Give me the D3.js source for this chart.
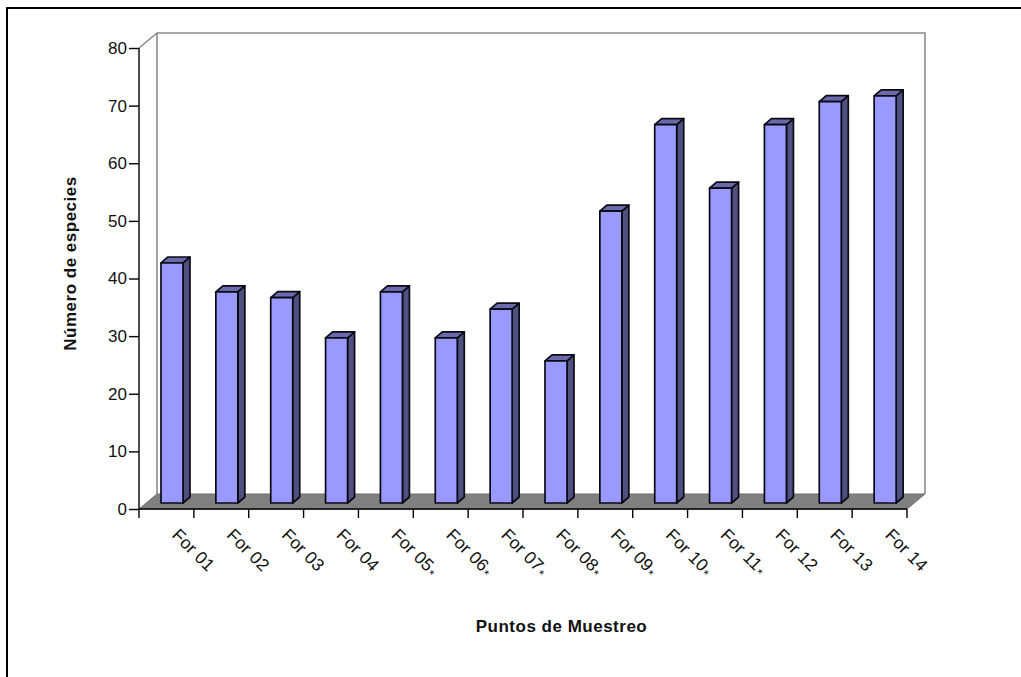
<!DOCTYPE html>
<html>
<head>
<meta charset="utf-8">
<script src="https://cdn.jsdelivr.net/npm/d3@7"></script>
<style>
html,body{margin:0;padding:0;background:#fff}
svg{display:block}
text{font-family:"Liberation Sans",Arial,sans-serif;fill:#111}
</style>
</head>
<body>
<svg id="chart" width="1021" height="677"></svg>
<script>
// Species count per sampling point
const puntos = ["For 01","For 02","For 03","For 04","For 05*","For 06*","For 07*","For 08*","For 09*","For 10*","For 11*","For 12","For 13","For 14"];
const especies = [42,37,36,29,37,29,34,25,51,66,55,66,70,71];
const marcasY = [0,10,20,30,40,50,60,70,80];

const svg = d3.select("#chart");
const x = d3.scaleBand().domain(puntos).range([139,907]);
const y = d3.scaleLinear().domain([0,80]).range([509,48]);

// Oblique offset of the back wall, and of each bar's depth
const wall = {dx:18, dy:-15};
const depth = {dx:7, dy:-6};
const barW = 22, barInset = 22;
const topLift = -4, baseLift = -6;

// Outer frame
svg.append("path").attr("d","M7,677V8H1021").attr("fill","none").attr("stroke","#000").attr("stroke-width",2);

// Back wall, side wall and floor
const x0 = x.range()[0], x1 = x.range()[1], yb = y(0), yt = y(80);
svg.append("path")
  .attr("d",`M${x0},${yt}L${x0+wall.dx},${yt+wall.dy}H${x1+wall.dx}V${yb+wall.dy}`)
  .attr("fill","none").attr("stroke","#8c8c8c").attr("stroke-width",1.6);
svg.append("path")
  .attr("d",`M${x0+wall.dx},${yt+wall.dy}V${yb+wall.dy}`)
  .attr("fill","none").attr("stroke","#8c8c8c").attr("stroke-width",1.6);
svg.append("path")
  .attr("d",`M${x0},${yb}L${x0+wall.dx},${yb+wall.dy}H${x1+wall.dx}L${x1},${yb}Z`)
  .attr("fill","#808080").attr("stroke","#6e6e6e").attr("stroke-width",1);

// Bars: side, top, then front face
const bars = svg.append("g").selectAll("g").data(puntos).join("g");
const left = d => x(d) + barInset;
const val = d => especies[puntos.indexOf(d)];
function style(sel,fill){
  sel.attr("fill",fill).attr("stroke","#0a0a14").attr("stroke-width",1.7).attr("stroke-linejoin","round");
}

bars.append("path").call(style,"#505080").attr("d",d=>{
  const r = left(d)+barW, t = y(val(d))+topLift, b = yb+baseLift;
  return `M${r},${t}l${depth.dx},${depth.dy}V${b+depth.dy}l${-depth.dx},${-depth.dy}Z`;
});
bars.append("path").call(style,"#6a6aaa").attr("d",d=>{
  const l = left(d), t = y(val(d))+topLift;
  return `M${l},${t}l${depth.dx},${depth.dy}h${barW}l${-depth.dx},${-depth.dy}Z`;
});
bars.append("rect").call(style,"#9999ff")
  .attr("x",left).attr("width",barW)
  .attr("y",d=>y(val(d))+topLift)
  .attr("height",d=>yb+baseLift-(y(val(d))+topLift));

// Value axis
const axisY = d3.axisLeft(y).tickValues(marcasY).tickSize(10).tickPadding(2);
const gy = svg.append("g").attr("transform",`translate(${x0},0)`).call(axisY);
gy.attr("font-family",null);
gy.selectAll("text").attr("font-size",17);
gy.selectAll("line,path").attr("stroke","#000").attr("stroke-width",1.4);
gy.select(".domain").attr("d",`M0,${yt}V${yb}`);

// Category axis: ticks sit on band edges, labels run downhill at 45 degrees
svg.append("line").attr("x1",x0).attr("x2",x1).attr("y1",yb).attr("y2",yb).attr("stroke","#000").attr("stroke-width",1.6);
const edges = puntos.map(d=>x(d)).concat([x1]);
svg.append("g").selectAll("line").data(edges).join("line")
  .attr("x1",d=>d).attr("x2",d=>d).attr("y1",yb).attr("y2",yb+9)
  .attr("stroke","#000").attr("stroke-width",1.4);
const etiquetas = svg.append("g").selectAll("text").data(puntos).join("text")
  .attr("font-size",17.5).attr("letter-spacing",0.15)
  .attr("transform",d=>`translate(${x(d)+32},536) rotate(45)`)
  .text(d=>d.replace("*",""));
// The asterisk is set smaller and lower than the label itself
etiquetas.filter(d=>d.endsWith("*")).append("tspan")
  .attr("font-size",13).attr("dy",3).attr("dx",1).text("*");

// Axis titles
svg.append("text").attr("x",561.5).attr("y",632).attr("text-anchor","middle")
  .attr("font-size",17).attr("letter-spacing",0.5).attr("font-weight","bold").text("Puntos de Muestreo");
svg.append("text").attr("transform","translate(76,263.5) rotate(-90)").attr("text-anchor","middle")
  .attr("font-size",17).attr("letter-spacing",0.5).attr("font-weight","bold").text("Número de especies");
</script>
</body>
</html>
